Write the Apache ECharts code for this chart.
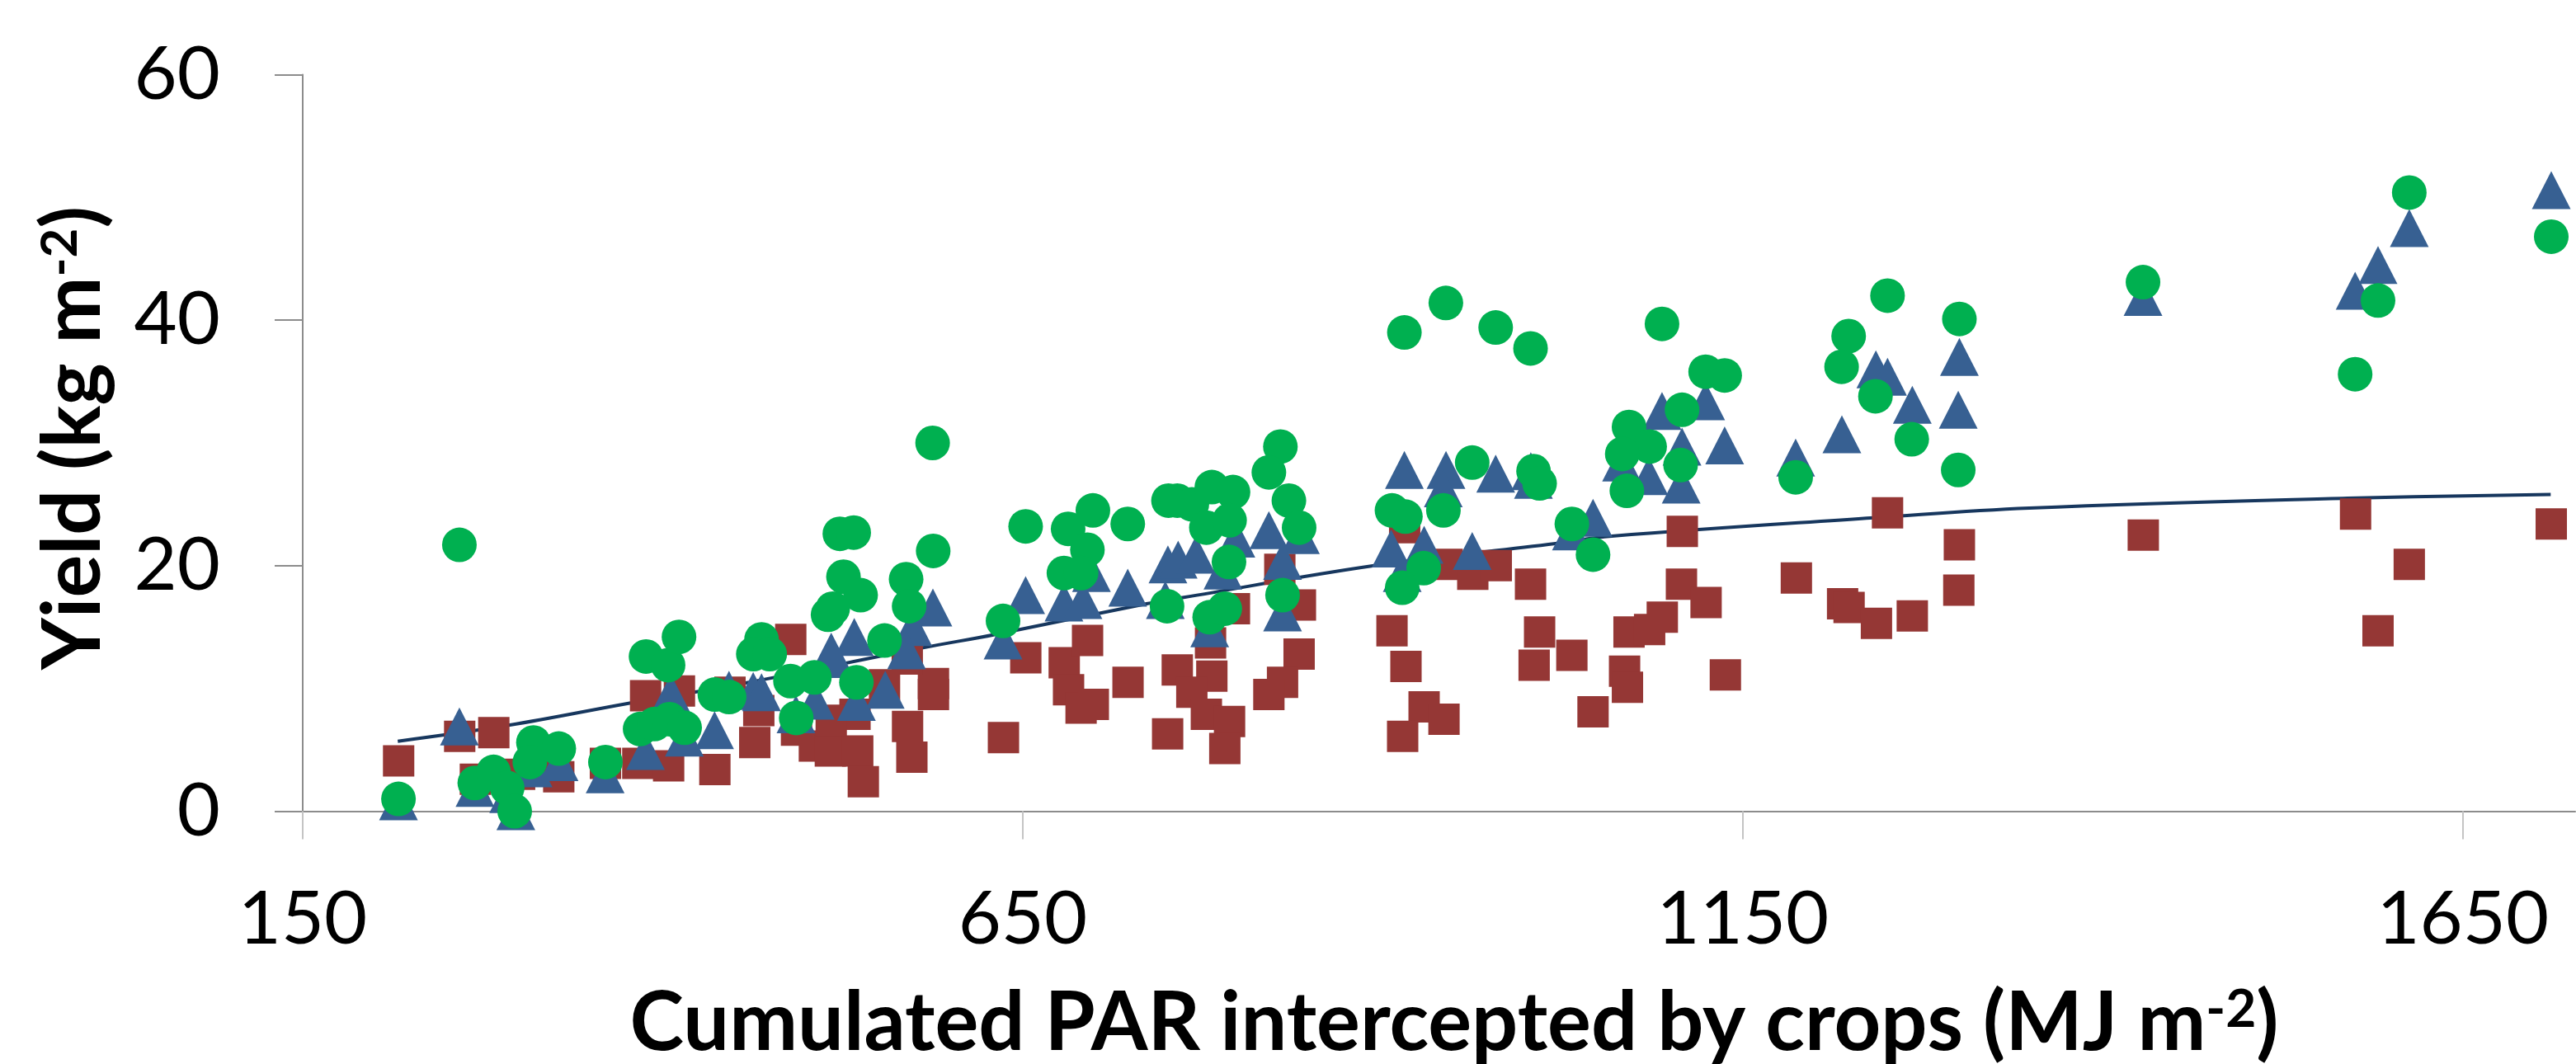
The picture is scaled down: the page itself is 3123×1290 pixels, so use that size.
<!DOCTYPE html>
<html>
<head>
<meta charset="utf-8">
<script src="https://cdn.jsdelivr.net/npm/echarts@6/dist/echarts.min.js"></script>
<style>
html,body{margin:0;padding:0;background:#fff;}
#chart{width:3123px;height:1290px;}
</style>
</head>
<body>
<div id="chart"></div>
<script>
// ---- data ----
const xTickLabels = [150, 650, 1150, 1650];
const yTickLabels = [0, 20, 40, 60];

const squareData = [
[216.6,4.1],[259.0,6.1],[282.7,6.4],[269.9,2.6],[300.6,3.0],[327.8,2.8],[388.1,9.4],[411.6,9.8],
[382.7,3.9],[404.1,3.7],[360.2,3.9],[436.2,3.4],[463.9,5.6],[466.7,8.2],[446.7,9.7],
[488.9,14.0],[492.9,6.6],[505.3,5.3],[516.4,4.9],[535.4,4.9],[539.3,2.4],[570.0,6.9],[573.0,4.4],
[588.0,10.4],[588.0,9.5],[569.8,12.4],[554.0,10.3],[533.5,7.9],[517.0,7.4],[636.6,6.0],[652.1,12.5],
[678.8,12.1],[695.0,13.9],[681.8,9.9],[690.5,8.4],[699.0,8.7],[723.1,10.5],[750.6,6.3],
[757.3,11.5],[781.3,11.0],[767.4,9.7],[777.5,7.9],[793.6,7.3],[790.3,5.1],[780.4,13.7],[797.0,16.5],
[841.9,12.8],[842.8,16.8],[830.4,10.5],[820.9,9.5],[828.5,19.7],[906.4,14.7],[916.1,11.8],[928.7,8.5],
[942.5,7.5],[913.8,6.1],[915.2,23.1],[944.7,20.1],[962.5,19.3],[978.8,20.0],[1002.6,18.5],[1008.9,14.6],
[1005.1,11.9],[1031.3,12.7],[1046.0,8.1],
[1108.0,22.8],[1107.4,18.5],[1124.5,17.0],[1094.1,15.8],[1071.0,14.6],[1085.3,14.8],[1067.9,11.4],
[1069.9,10.1],[1137.9,11.1],[1187.2,19.0],[1219.3,16.9],[1223.8,16.6],[1242.8,15.3],[1267.7,15.9],
[1250.5,24.3],[1300.4,21.7],[1300.0,18.0],
[1428.1,22.5],[1575.5,24.2],[1591.1,14.7],[1612.8,20.1],[1711.4,23.4]
];

const triangleData = [
[216.5,0.8],[258.8,6.9],[269.6,1.9],[293.0,1.4],[298.0,0.0],[310.0,3.5],[328.0,4.0],[360.0,3.0],
[388.0,4.9],[405.6,9.6],[415.0,6.0],[436.0,6.6],[446.0,9.9],[462.8,9.8],
[587.6,16.6],[573.6,15.0],[569.3,13.1],[533.0,14.2],[518.3,12.4],[517.0,13.0],[554.5,9.9],[534.5,8.9],
[505.9,9.0],[468.6,9.7],[492.5,7.9],[652.0,17.6],[636.3,13.9],[678.6,17.0],[697.7,19.4],[691.8,17.2],
[722.9,18.2],[750.8,20.1],[749.0,17.2],
[757.9,20.5],[770.3,20.9],[798.0,22.2],[820.9,22.9],[842.8,22.5],[789.0,19.6],[830.4,20.4],[779.8,14.9],
[830.4,16.2],[915.0,27.8],[943.9,27.8],[978.4,27.5],[1002.8,27.7],[1004.6,27.0],[942.0,26.3],[905.8,21.4],
[928.7,21.7],[962.1,21.2],[913.5,19.4],[1031.0,22.8],
[1046.0,23.9],[1093.9,32.6],[1124.2,33.4],[1107.8,29.7],[1137.4,29.8],[1107.2,26.6],[1084.7,27.3],
[1065.8,28.4],[1186.7,28.8],[1218.8,30.7],[1242.4,36.0],[1250.5,35.4],[1267.7,33.1],[1300.4,37.0],
[1299.6,32.7],
[1427.9,41.9],[1575.2,42.4],[1591.1,44.5],[1612.8,47.5],[1711.4,50.6]
];

const circleData = [
[216.5,1.0],[258.8,21.7],[269.5,2.3],[282.5,3.2],[292.0,1.9],[297.2,0.0],[310.2,5.6],[307.7,4.0],
[327.8,5.1],[360.2,4.0],[388.4,12.6],[403.7,11.9],[411.3,14.2],[384.3,6.7],[394.2,7.1],[404.6,7.5],
[415.2,6.8],[436.2,9.5],[446.1,9.3],
[587.4,30.0],[523.0,22.6],[532.6,22.7],[525.5,19.1],[537.4,17.6],[514.8,16.0],[518.0,16.5],[569.0,18.9],
[571.1,16.7],[587.8,21.2],[554.0,13.9],[468.6,14.0],[462.9,12.8],[474.3,12.8],[488.7,10.6],[505.3,10.9],
[492.7,7.6],[534.5,10.5],[636.3,15.5],[652.0,23.2],[681.5,23.0],[698.7,24.5],[694.9,21.3],[678.6,19.4],
[690.5,19.4],[722.9,23.4],[750.2,16.7],[751.2,25.3],
[915.0,39.0],[943.8,41.4],[978.4,39.4],[1002.6,37.7],[828.9,29.7],[820.9,27.6],[757.3,25.3],[767.4,25.0],
[781.3,26.4],[796.0,26.0],[777.5,23.1],[793.6,23.7],[793.2,20.3],[834.8,25.3],[841.9,23.1],[779.8,15.8],
[790.3,16.5],[830.4,17.6],[906.4,24.5],[915.7,24.0],[942.1,24.5],[962.1,28.4],[1004.7,27.7],[1008.9,26.7],
[1031.3,23.4],[928.4,19.8],[913.5,18.2],
[1093.9,39.7],[1124.2,35.8],[1137.4,35.5],[1107.8,32.7],[1071.0,31.3],[1085.3,29.7],[1066.3,29.1],
[1106.8,28.2],[1069.5,26.1],[1046.0,20.9],[1186.7,27.2],[1223.5,38.7],[1218.6,36.2],[1250.5,42.0],
[1242.1,33.8],[1267.3,30.3],[1300.4,40.1],[1299.6,27.8],
[1427.9,43.1],[1575.2,35.6],[1591.1,41.6],[1612.8,50.4],[1711.4,46.8]
];

const trendData = [
[216,5.7],[293,7.0],[377,8.8],[460,10.5],[580,13.3],[631,14.4],[736,16.9],[761,17.4],
[894,20.0],[1020,21.8],[1059,22.4],[1241,23.9],[1349,24.7],[1570,25.5],[1711,25.8]
];

const xTitle = ['Cumulated PAR intercepted by crops (MJ m', '-2', ')'];
const yTitle = ['Yield (kg m', '-2', ')'];

// ---- chart ----
const chart = echarts.init(document.getElementById('chart'), null, {renderer: 'canvas'});
const FONT = 'Lato, "Noto Sans", sans-serif';

const option = {
  animation: false,
  backgroundColor: '#ffffff',
  grid: {left: 367, top: 90.5, right: 1, bottom: 306.5, containLabel: false},
  xAxis: {
    type: 'value', min: 150, max: 1728, interval: 500,
    axisLine: {show: true, lineStyle: {color: '#8c8c8c', width: 2}},
    axisTick: {show: true, inside: false, length: 34, lineStyle: {color: '#c4c4c4', width: 2}},
    splitLine: {show: false},
    axisLabel: {
      margin: 86, fontFamily: FONT, fontSize: 90, color: '#000', lineHeight: 90,
      showMaxLabel: false,
      formatter: v => (xTickLabels.indexOf(Math.round(v)) >= 0 ? String(Math.round(v)) : '')
    }
  },
  yAxis: {
    type: 'value', min: 0, max: 60, interval: 20,
    axisLine: {show: true, lineStyle: {color: '#8c8c8c', width: 2}},
    axisTick: {show: true, inside: false, length: 34, lineStyle: {color: '#8c8c8c', width: 2}},
    splitLine: {show: false},
    axisLabel: {
      margin: 100, fontFamily: FONT, fontSize: 90, color: '#000',
      formatter: v => (yTickLabels.indexOf(v) >= 0 ? String(v) : '')
    }
  },
  graphic: [
    {
      type: 'text', x: 1763, y: 1241, silent: true,
      style: {
        text: '{b|' + xTitle[0] + '}{s|' + xTitle[1] + '}{b|' + xTitle[2] + '}',
        align: 'center', verticalAlign: 'middle',
        rich: {
          b: {fontFamily: FONT, fontWeight: 'bold', fontSize: 99, lineHeight: 98, fill: '#000', color: '#000'},
          s: {fontFamily: FONT, fontWeight: 'bold', fontSize: 64, lineHeight: 56, verticalAlign: 'top', fill: '#000', color: '#000'}
        }
      }
    },
    {
      type: 'text', x: 90, y: 531, rotation: Math.PI / 2, silent: true,
      style: {
        text: '{b|' + yTitle[0] + '}{s|' + yTitle[1] + '}{b|' + yTitle[2] + '}',
        align: 'center', verticalAlign: 'middle',
        rich: {
          b: {fontFamily: FONT, fontWeight: 'bold', fontSize: 97, lineHeight: 96, fill: '#000', color: '#000'},
          s: {fontFamily: FONT, fontWeight: 'bold', fontSize: 62, lineHeight: 54, verticalAlign: 'top', fill: '#000', color: '#000'}
        }
      }
    }
  ],
  series: [
    {
      type: 'line', data: trendData, smooth: 0.4, showSymbol: false, clip: false,
      lineStyle: {color: '#17375E', width: 4}, z: 1
    },
    {
      type: 'scatter', data: squareData, symbol: 'rect', symbolSize: 38, clip: false,
      itemStyle: {color: '#953735', opacity: 1}, z: 2
    },
    {
      type: 'scatter', data: triangleData, symbol: 'triangle', symbolSize: [47, 46], clip: false,
      itemStyle: {color: '#376092', opacity: 1}, z: 3
    },
    {
      type: 'scatter', data: circleData, symbol: 'circle', symbolSize: 42, clip: false,
      itemStyle: {color: '#00B050', opacity: 1}, z: 4
    }
  ]
};
chart.setOption(option);
</script>
</body>
</html>
